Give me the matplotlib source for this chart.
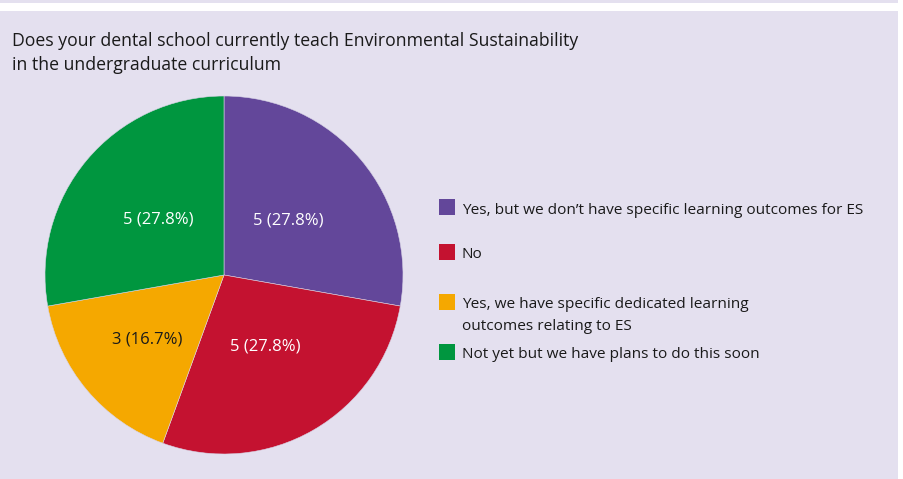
import numpy as np
import matplotlib.pyplot as plt
from matplotlib.patches import Rectangle

# ==============================
# Data
# ==============================
title = ("Does your dental school currently teach Environmental Sustainability\n"
         "in the undergraduate curriculum")
labels = [
    "Yes, but we don\u2019t have specific learning outcomes for ES",
    "No",
    "Yes, we have specific dedicated learning\noutcomes relating to ES",
    "Not yet but we have plans to do this soon",
]
counts = [5, 5, 3, 5]
colors = ["#63479A", "#C41230", "#F5A800", "#00963F"]
label_colors = ["white", "white", "#1a1a1a", "white"]

# ==============================
# Figure setup
# ==============================
W, H = 904, 479
BG = "#E4E0EF"
FONT = ["Liberation Sans Narrow", "Open Sans", "DejaVu Sans"]
plt.rcParams["font.family"] = FONT

fig = plt.figure(figsize=(W / 100, H / 100), dpi=100, facecolor=BG)


def px(x, y):
    # pixel coords (top-left origin) -> figure fraction
    return x / W, 1 - y / H


# white frame pieces: band near the top and strip on the right
fig.patches.append(Rectangle(px(0, 11), 898 / W, 8 / H, transform=fig.transFigure,
                             facecolor="white", edgecolor="none", zorder=0))
fig.patches.append(Rectangle((898 / W, 0), 6 / W, 1, transform=fig.transFigure,
                             facecolor="white", edgecolor="none", zorder=0))

for i, line in enumerate(title.split("\n")):
    fig.text(*px(12, 46 + 24 * i), line, fontsize=12.7, color="#1a1a1a",
             ha="left", va="baseline")

# ==============================
# Pie
# ==============================
cx, cy, r = 224, 275, 179
ax = fig.add_axes([(cx - r) / W, (H - cy - r) / H, 2 * r / W, 2 * r / H])
ax.set_facecolor("none")
total = sum(counts)

wedges, texts, autotexts = ax.pie(
    counts, colors=colors, startangle=90, counterclock=False,
    radius=1, pctdistance=0.5,
    autopct=lambda p: f"{round(p * total / 100)} ({p:.1f}%)",
    wedgeprops=dict(edgecolor="#d8d4e6", linewidth=0.4),
)
# label distance from centre, per wedge
label_dist = [0.47, 0.46, 0.56, 0.48]
for w, t, c, d in zip(wedges, autotexts, label_colors, label_dist):
    ang = np.deg2rad((w.theta1 + w.theta2) / 2)
    t.set_position((d * np.cos(ang), d * np.sin(ang)))
    t.set_color(c)
    t.set_fontsize(12)
    t.set_fontweight("medium")
ax.set_xlim(-1, 1)
ax.set_ylim(-1, 1)
ax.set_aspect("equal")
ax.axis("off")

# ==============================
# Legend (manual)
# ==============================
legend_y = [208, 253, 303, 353]  # centre of first text line
for lab, col, y in zip(labels, colors, legend_y):
    fig.patches.append(Rectangle(px(439, y + 7), 16 / W, 16 / H,
                                 transform=fig.transFigure, facecolor=col,
                                 edgecolor="none"))
    for j, line in enumerate(lab.split("\n")):
        fig.text(*px(462, y + 2 + 22 * j), line, fontsize=11.1, color="#1a1a1a",
                 ha="left", va="center")

fig.savefig("out.png", dpi=100, facecolor=BG)
